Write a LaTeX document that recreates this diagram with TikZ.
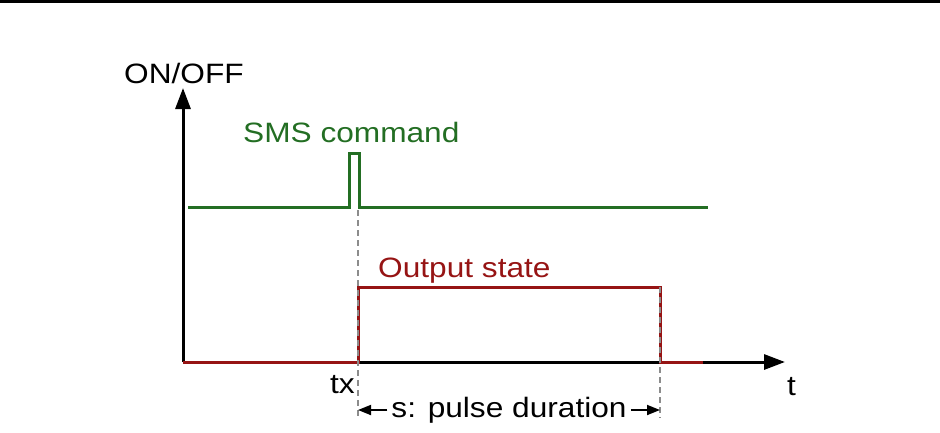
\documentclass[tikz,border=0pt]{standalone}
\usepackage{fontspec}
\setmainfont{Liberation Sans}[FakeStretch=1.13]
\usetikzlibrary{arrows.meta}
\definecolor{smsgreen}{RGB}{35,110,35}
\definecolor{outred}{RGB}{150,20,20}
\definecolor{guidegray}{RGB}{140,140,140}

\begin{document}
\begin{tikzpicture}[x=1pt, y=-1pt, >={Triangle[length=21pt,width=15pt]},
    font=\fontsize{28}{32}\selectfont,
    axis/.style={line width=3pt},
    signal/.style={line width=3pt, line join=miter},
    guide/.style={guidegray, line width=2pt, dash pattern=on 6pt off 4pt},
    dimarrow/.style={line width=1.8pt, -{Triangle[length=13pt,width=10pt]}},
    lbl/.style={anchor=base west, inner sep=0pt}]
    \useasboundingbox (0,0) rectangle (940,432);
    \draw[line width=3.5pt] (0,1.5) -- (940,1.5);

    % axes
    \coordinate (O) at (183,362);
    \coordinate (T) at (785,362);
    \coordinate (Y) at (183,88);
    \draw[axis, ->] (O) -- (T);
    \draw[axis, ->] (O) -- (Y);
    \node[lbl] (onoff) at (124,83) {ON/OFF};
    \node[lbl] (tlabel) at (787,395) {t};

    % SMS command pulse
    \coordinate (G0) at (188,207);
    \coordinate (G1) at (349,207);
    \coordinate (G2) at (359,207);
    \coordinate (G3) at (708,207);
    \draw[signal, smsgreen] (G0) -- (G1) -- (349,153) -- (359,153) -- (G2) -- (G3);
    \node[lbl, text=smsgreen] (sms) at (243,142) {SMS command};

    % output state
    \coordinate (tx) at (358,362);
    \coordinate (te) at (660,362);
    \draw[signal, outred] (O) -- (tx) -- (358,287) -- (660,287) -- (te) -- (703,362);
    \node[lbl, text=outred] (out) at (378,277) {Output state};

    % guides
    \draw[guide] (358,210) -- (358,418);
    \draw[guide] (660,287) -- (660,418);
    \node[lbl] (txlabel) at (330,393) {tx};

    % pulse duration
    \coordinate (d0) at (358,410);
    \coordinate (d1) at (660,410);
    \node[anchor=base, inner sep=4pt] (dur) at (509,417) {s: pulse duration};
    \draw[dimarrow] (dur.west |- d0) -- (d0);
    \draw[dimarrow] (dur.east |- d1) -- (d1);
\end{tikzpicture}
\end{document}
